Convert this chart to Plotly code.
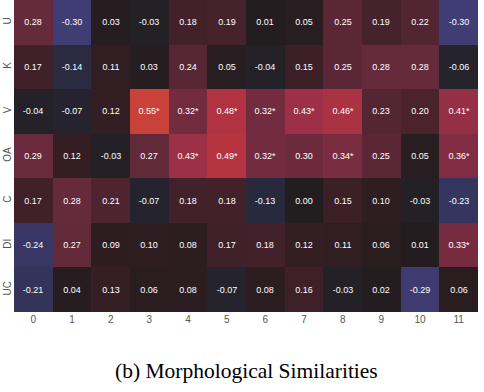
import plotly.graph_objects as go

# rows of the heatmap, top to bottom
row_labels = ['U', 'K', 'V', 'OA', 'C', 'DI', 'UC']
col_labels = [str(i) for i in range(12)]

vals_U = [0.28, -0.30, 0.03, -0.03, 0.18, 0.19, 0.01, 0.05, 0.25, 0.19, 0.22, -0.30]
vals_K = [0.17, -0.14, 0.11, 0.03, 0.24, 0.05, -0.04, 0.15, 0.25, 0.28, 0.28, -0.06]
vals_V = [-0.04, -0.07, 0.12, 0.55, 0.32, 0.48, 0.32, 0.43, 0.46, 0.23, 0.20, 0.41]
vals_OA = [0.29, 0.12, -0.03, 0.27, 0.43, 0.49, 0.32, 0.30, 0.34, 0.25, 0.05, 0.36]
vals_C = [0.17, 0.28, 0.21, -0.07, 0.18, 0.18, -0.13, 0.00, 0.15, 0.10, -0.03, -0.23]
vals_DI = [-0.24, 0.27, 0.09, 0.10, 0.08, 0.17, 0.18, 0.12, 0.11, 0.06, 0.01, 0.33]
vals_UC = [-0.21, 0.04, 0.13, 0.06, 0.08, -0.07, 0.08, 0.16, -0.03, 0.02, -0.29, 0.06]

# significance markers
sig_V = [0, 0, 0, 1, 1, 1, 1, 1, 1, 0, 0, 1]
sig_OA = [0, 0, 0, 0, 1, 1, 1, 0, 1, 0, 0, 1]
sig_DI = [0] * 11 + [1]

z = [vals_U, vals_K, vals_V, vals_OA, vals_C, vals_DI, vals_UC]
sig = [[0] * 12, [0] * 12, sig_V, sig_OA, [0] * 12, sig_DI, [0] * 12]

text = []
for row, srow in zip(z, sig):
    text.append([f'{v:.2f}' + ('*' if s else '') for v, s in zip(row, srow)])

zmin, zmax = -0.30, 0.55
def pos(v):
    return (v - zmin) / (zmax - zmin)

colorscale = [
    [pos(-0.30), '#403c74'],
    [pos(-0.22), '#35345c'],
    [pos(-0.12), '#272839'],
    [pos(0.0), '#221d1f'],
    [pos(0.10), '#2e1d21'],
    [pos(0.18), '#43212a'],
    [pos(0.28), '#652a3b'],
    [pos(0.36), '#812c42'],
    [pos(0.43), '#9c3046'],
    [pos(0.49), '#b53440'],
    [pos(0.55), '#c9423a'],
]

fig = go.Figure(go.Heatmap(
    z=z,
    x=col_labels,
    y=row_labels,
    text=text,
    texttemplate='%{text}',
    textfont=dict(color='white', size=9, family='Liberation Sans'),
    colorscale=colorscale,
    zmin=zmin,
    zmax=zmax,
    showscale=False,
    xgap=0,
    ygap=0,
))

fig.update_layout(
    width=484,
    height=392,
    margin=dict(l=14, r=6, t=0, b=80, autoexpand=False),
    paper_bgcolor='white',
    plot_bgcolor='white',
    font=dict(family='Liberation Sans', size=10, color='#555555'),
    xaxis=dict(type='category', showgrid=False, zeroline=False, ticks='',
               ticklen=0, automargin=False),
    yaxis=dict(type='category', autorange='reversed', showgrid=False,
               zeroline=False, tickangle=-90, ticks='', ticklen=0,
               automargin=False),
)

fig.add_annotation(
    text='(b) Morphological Similarities',
    xref='paper', yref='paper', x=0.5, y=-0.19,
    xanchor='center', yanchor='middle', showarrow=False,
    font=dict(family='Liberation Serif', size=21.5, color='black'),
)

# page body has a default margin, drop it so the figure sits at 0,0
fig.write_html('out.html', config={'displayModeBar': False},
               post_script="document.body.style.margin='0';")
